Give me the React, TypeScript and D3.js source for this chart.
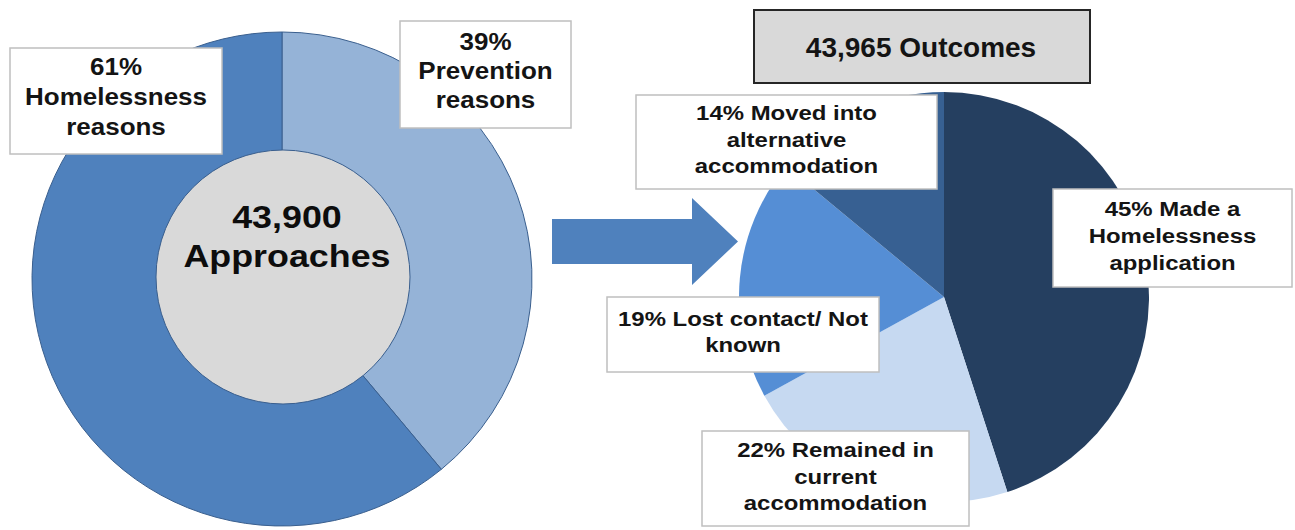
import React from 'react';
import * as d3 from 'd3';

// approaches split (clockwise from 12 o'clock)
const approachNames = ['Prevention reasons', 'Homelessness reasons'];
const approachShares = [39, 61];
const approachColours = ['#95B3D7', '#4F81BD'];
const approachLabels = [
  ['39%', 'Prevention', 'reasons'],
  ['61%', 'Homelessness', 'reasons'],
];
const approachTotal = '43,900';

// outcomes split (clockwise from 12 o'clock)
const outcomeNames = [
  'Made a Homelessness application',
  'Remained in current accommodation',
  'Lost contact/ Not known',
  'Moved into alternative accommodation',
];
const outcomeShares = [45, 22, 19, 14];
const outcomeColours = ['#253F60', '#C6D9F1', '#558ED5', '#376092'];
const outcomeLabels = [
  ['45% Made a', 'Homelessness', 'application'],
  ['22% Remained in', 'current', 'accommodation'],
  ['19% Lost contact/ Not', 'known'],
  ['14% Moved into', 'alternative', 'accommodation'],
];
const outcomeTotal = '43,965';

// call-out box placement (annotation layout, not data)
const approachBoxes = [
  { x: 400, y: 21, w: 171, h: 107, base: [50, 79, 108] },
  { x: 10, y: 48, w: 212, h: 106, base: [75, 105, 135] },
];
const outcomeBoxes = [
  { x: 1053, y: 189, w: 239, h: 98, base: [216, 243, 270] },
  { x: 702, y: 431, w: 267, h: 95, base: [457, 484, 510] },
  { x: 607, y: 297, w: 272, h: 75, base: [326, 352] },
  { x: 636, y: 95, w: 301, h: 94, base: [120, 147, 173] },
];

const FONT = "'Liberation Sans', Arial, sans-serif";

function Callout({ box, lines, size, stretch }) {
  const cx = box.x + box.w / 2;
  return (
    <g>
      <rect x={box.x} y={box.y} width={box.w} height={box.h}
        fill='#fff' stroke='#bfbfbf' strokeWidth={1.5} />
      {lines.map((t, i) => (
        <text key={i} transform={`translate(${cx},${box.base[i]}) scale(${stretch},1)`}
          textAnchor='middle' fontFamily={FONT} fontWeight='bold'
          fontSize={size} fill='#141414'>{t}</text>
      ))}
    </g>
  );
}

export default function App() {
  const width = 1295, height = 530;

  // left donut (slightly wider than tall, like the original)
  const lcx = 282, lcy = 279, lry = 247, lrx = 250;
  const pie = d3.pie<number>().sort(null).value(d => d);
  const leftArcs = pie(approachShares);
  const leftArc = d3.arc<d3.PieArcDatum<number>>().innerRadius(0).outerRadius(lry);

  // inner hole
  const hole = { cx: 283, cy: 277, r: 127 };

  // right pie
  const rcx = 944, rcy = 297, rr = 205;
  const rightArcs = pie(outcomeShares);
  const rightArc = d3.arc<d3.PieArcDatum<number>>().innerRadius(0).outerRadius(rr);

  // arrow between the two charts
  const arrow = d3.line()([
    [552, 219], [692, 219], [692, 198], [738, 241.5],
    [692, 285], [692, 264], [552, 264],
  ]) + 'Z';

  return (
    <svg width={width} height={height}
      style={{ position: 'absolute', left: 0, top: 0, background: '#fff' }}>
      <g transform={`translate(${lcx},${lcy}) scale(${lrx / lry},1)`}>
        {leftArcs.map((a, i) => (
          <path key={approachNames[i]} d={leftArc(a)} fill={approachColours[i]}
            stroke='#3A5F8E' strokeWidth={1} vectorEffect='non-scaling-stroke' />
        ))}
      </g>
      <circle cx={hole.cx} cy={hole.cy} r={hole.r} fill='#D9D9D9'
        stroke='#3A5F8E' strokeWidth={1} />
      <g fontFamily={FONT} fontWeight='bold' fontSize={32} fill='#0d0d0d' textAnchor='middle'>
        <text transform={`translate(${hole.cx + 4},228) scale(1.12,1)`}>{approachTotal}</text>
        <text transform={`translate(${hole.cx + 4},267) scale(1.12,1)`}>Approaches</text>
      </g>

      <path d={arrow} fill='#4F81BD' />

      <g transform={`translate(${rcx},${rcy})`}>
        {rightArcs.map((a, i) => (
          <path key={outcomeNames[i]} d={rightArc(a)} fill={outcomeColours[i]} />
        ))}
      </g>

      {approachLabels.map((l, i) => (
        <Callout key={'a' + i} box={approachBoxes[i]} lines={l} size={23} stretch={1.13} />
      ))}
      {outcomeLabels.map((l, i) => (
        <Callout key={'o' + i} box={outcomeBoxes[i]} lines={l} size={21} stretch={1.14} />
      ))}

      <rect x={754} y={10} width={336} height={73} fill='#D9D9D9' stroke='#262626' strokeWidth={2} />
      <text x={921} y={57} textAnchor='middle' fontFamily={FONT} fontWeight='bold'
        fontSize={28} fill='#141414'>{outcomeTotal} Outcomes</text>
    </svg>
  );
}
